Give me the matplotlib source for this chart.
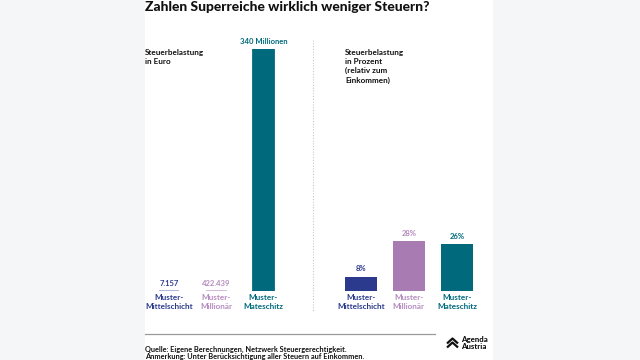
import matplotlib.pyplot as plt
from matplotlib.lines import Line2D

plt.rcParams['font.family'] = ['Lato', 'DejaVu Sans']

# Daten
kategorien = ['Muster-\nMittelschicht', 'Muster-\nMillionär', 'Muster-\nMateschitz']
steuer_euro = [7157, 422439, 340e6]
euro_labels = ['7.157', '422.439', '340 Millionen']
steuer_prozent = [8, 28, 26]
prozent_labels = ['8%', '28%', '26%']
farben = ['#2b3a8c', '#a97bb3', '#006a7c']
label_farben = ['#2b3a8c', '#b58cc0', '#006a7c']
linien_farben = ['#a9b0d6', '#d2b6db', '#006a7c']

W, H = 640, 360


def fx(x):
    return x / W


def fy(y):
    return 1 - y / H


fig = plt.figure(figsize=(6.4, 3.6), dpi=100)
fig.patch.set_facecolor('#f5f6f8')

# weisses Panel
panel = fig.add_axes([fx(145), 0, fx(493) - fx(145), 1])
panel.set_facecolor('white')
panel.set_xticks([])
panel.set_yticks([])
for s in panel.spines.values():
    s.set_visible(False)
panel.set_zorder(0)

fig.text(fx(145), fy(7), 'Zahlen Superreiche wirklich weniger Steuern?',
         fontsize=10, fontweight='black', color='#111111', va='center', ha='left')

# linkes Diagramm: Euro
ax1 = fig.add_axes([fx(145), fy(291), (313 - 145) / W, 242 / H])
ax1.bar(range(3), steuer_euro, width=0.44, color=farben, edgecolor=linien_farben, linewidth=1.3)
ax1.set_xlim(-0.51, 3.05)
ax1.set_ylim(0, 340e6)
for i, lab in enumerate(euro_labels):
    ax1.annotate(lab, (i, steuer_euro[i]), xytext=(0, 3), textcoords='offset points',
                 ha='center', va='bottom', fontsize=5.5, color=label_farben[i], fontweight='bold')

# rechtes Diagramm: Prozent
ax2 = fig.add_axes([fx(320), fy(291), (493 - 320) / W, 242 / H])
ax2.bar(range(3), steuer_prozent, width=0.67, color=farben)
ax2.set_xlim(-0.85, 2.75)
ax2.set_ylim(0, 135)
for i, lab in enumerate(prozent_labels):
    ax2.annotate(lab, (i, steuer_prozent[i]), xytext=(0, 3), textcoords='offset points',
                 ha='center', va='bottom', fontsize=5.5, color=label_farben[i], fontweight='bold')

for ax in (ax1, ax2):
    ax.patch.set_alpha(0)
    for s in ax.spines.values():
        s.set_visible(False)
    ax.set_yticks([])
    ax.set_xticks(range(3))
    ax.set_xticklabels(kategorien, fontsize=5.9, fontweight='bold', linespacing=1.35)
    ax.tick_params(axis='x', length=0, pad=2.0)
    for t, c in zip(ax.get_xticklabels(), label_farben):
        t.set_color(c)

# Untertitel der Panels
fig.text(fx(145), fy(49), 'Steuerbelastung\nin Euro', fontsize=5.9, fontweight='bold',
         color='#111111', va='top', ha='left', linespacing=1.35)
fig.text(fx(345), fy(49), 'Steuerbelastung\nin Prozent\n(relativ zum\nEinkommen)', fontsize=5.9,
         fontweight='bold', color='#111111', va='top', ha='left', linespacing=1.35)

# Trennlinie
fig.add_artist(Line2D([fx(313), fx(313)], [fy(40), fy(312)], color='#c8c8c8',
                      linewidth=0.8, linestyle=(0, (1, 1.5))))

# Fusszeile
fig.add_artist(Line2D([fx(145), fx(435)], [fy(334), fy(334)], color='#9a9a9a', linewidth=0.9))
fig.text(fx(145), fy(349), 'Quelle: Eigene Berechnungen, Netzwerk Steuergerechtigkeit.',
         fontsize=5.3, fontweight='bold', color='#111111', va='center', ha='left')
fig.text(fx(145), fy(356), 'Anmerkung: Unter Berücksichtigung aller Steuern auf Einkommen.',
         fontsize=5.3, fontweight='bold', color='#111111', va='center', ha='left')

# Logo
for dy in (0, 4):
    fig.add_artist(Line2D([fx(447), fx(452.5), fx(458)], [fy(343.5 + dy), fy(338.5 + dy), fy(343.5 + dy)],
                          color='#111111', linewidth=1.6, solid_capstyle='butt'))
fig.text(fx(461), fy(343), 'Agenda\nAustria', fontsize=5.6, fontweight='black', color='#111111',
         va='center', ha='left', linespacing=0.95)

fig.savefig('out.png', dpi=100, facecolor=fig.get_facecolor())
